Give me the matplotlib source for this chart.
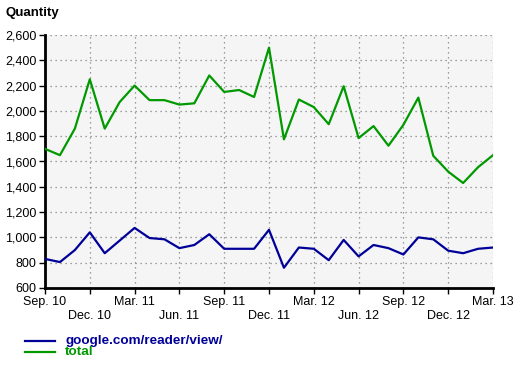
import matplotlib
matplotlib.use("Agg")
import matplotlib.pyplot as plt
from matplotlib.lines import Line2D
import numpy as np

plt.rcParams["font.family"] = ["Liberation Sans", "DejaVu Sans"]

# monthly, Sep 2010 .. Mar 2013
months = ["Sep. 10", "Oct. 10", "Nov. 10", "Dec. 10", "Jan. 11", "Feb. 11",
          "Mar. 11", "Apr. 11", "May 11", "Jun. 11", "Jul. 11", "Aug. 11",
          "Sep. 11", "Oct. 11", "Nov. 11", "Dec. 11", "Jan. 12", "Feb. 12",
          "Mar. 12", "Apr. 12", "May 12", "Jun. 12", "Jul. 12", "Aug. 12",
          "Sep. 12", "Oct. 12", "Nov. 12", "Dec. 12", "Jan. 13", "Feb. 13",
          "Mar. 13"]
reader = [830, 805, 900, 1040, 875, 975, 1075, 995, 985, 915, 940, 1025,
          910, 910, 910, 1060, 760, 920, 910, 820, 980, 850, 940, 915,
          865, 1000, 985, 895, 875, 910, 920]
total = [1700, 1650, 1860, 2250, 1860, 2070, 2200, 2085, 2085, 2050, 2060, 2280,
         2150, 2165, 2110, 2500, 1775, 2090, 2030, 1895, 2195, 1785, 1880, 1725,
         1890, 2105, 1645, 1520, 1430, 1555, 1650]
series_labels = ["google.com/reader/view/", "total"]
colors = ["#000099", "#009900"]

W, H = 520, 366
fig = plt.figure(figsize=(W / 100, H / 100), dpi=100)
ax = fig.add_axes([45 / W, 1 - 288 / H, 448 / W, 253 / H])
ax.set_facecolor("#f5f5f5")

x = np.arange(len(months))
ax.plot(x, reader, color=colors[0], lw=1.6, zorder=3)
ax.plot(x, total, color=colors[1], lw=1.6, zorder=3)

ax.set_xlim(0, len(months) - 1)
ax.set_ylim(600, 2600)
yt = np.arange(600, 2601, 200)
ax.set_yticks(yt)
ax.set_yticklabels([f"{v:,}" for v in yt])
xt = x[::3]
ax.set_xticks(xt)
ax.set_xticklabels([months[i] if k % 2 == 0 else "\n" + months[i]
                    for k, i in enumerate(xt)], linespacing=1.2)

ax.grid(True, color="#808080", ls=(0, (1, 3)), lw=0.9)
for s in ["top", "right"]:
    ax.spines[s].set_visible(False)
for s in ["left", "bottom"]:
    ax.spines[s].set_linewidth(2)
    ax.spines[s].set_color("black")
ax.tick_params(axis="both", length=4, width=1, labelsize=9, pad=2, colors="black")

fig.text(5 / W, 1 - 13 / H, "Quantity", fontsize=9.5, fontweight="bold",
         va="center", ha="left")

for i, (lab, c) in enumerate(zip(series_labels, colors)):
    yy = 1 - (341 + 11 * i) / H
    fig.add_artist(Line2D([25 / W, 55 / W], [yy, yy], color=c, lw=1.6))
    fig.text(65 / W, yy, lab, color=c, fontsize=9.7, fontweight="bold", va="center")

fig.savefig("out.png", dpi=100)
